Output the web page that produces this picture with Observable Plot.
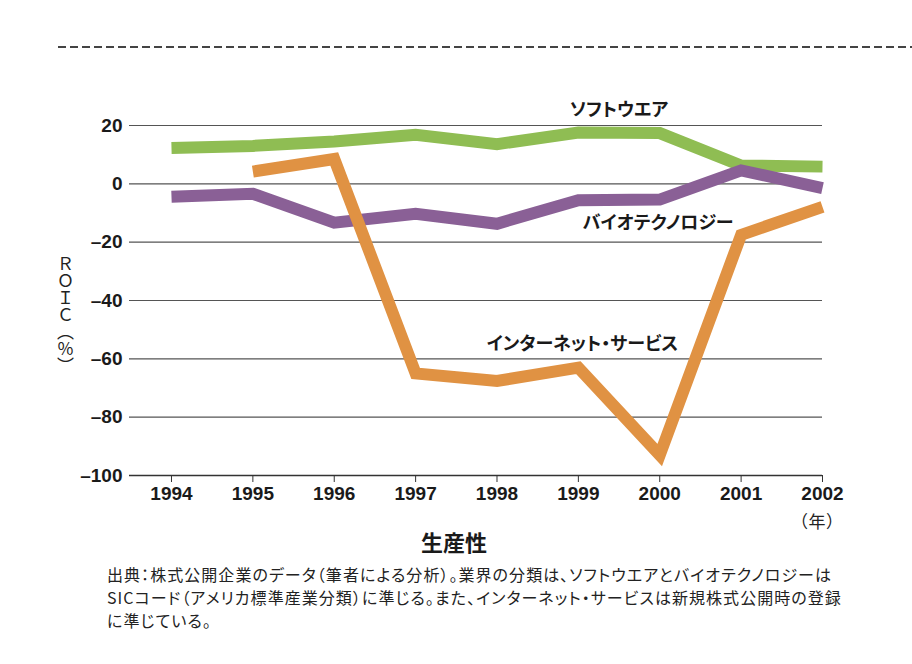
<!DOCTYPE html>
<html><head><meta charset="utf-8">
<script src="https://cdn.jsdelivr.net/npm/d3@7"></script>
<script src="https://cdn.jsdelivr.net/npm/@observablehq/plot@0.6"></script>
<style>
body{margin:0;background:#fff;}
#wrap{position:relative;width:912px;height:664px;overflow:hidden;font-family:"Noto Sans CJK JP","Noto Sans",sans-serif;color:#1a1a1a;}
#dash{position:absolute;left:58px;top:46px;width:854px;height:1.5px;background:repeating-linear-gradient(to right,#444 0 8px,transparent 8px 12px);}
#chart{position:absolute;left:0;top:0;}
#chart svg g[aria-label="text"] text{font-feature-settings:"palt";}
#ylab{position:absolute;left:55px;top:255px;writing-mode:vertical-rl;font-size:17px;line-height:20px;color:#222;}
#nen{position:absolute;left:799px;top:508px;font-size:17px;color:#222;font-feature-settings:"palt";letter-spacing:1px;}
#xlab{position:absolute;left:421px;top:525px;font-size:22px;font-weight:700;color:#1a1a1a;}
.cap{position:absolute;left:107px;font-size:16px;line-height:22px;height:22px;color:#222;font-feature-settings:"palt";letter-spacing:1.05px;white-space:nowrap;font-family:"Noto Sans CJK JP",sans-serif;}
</style></head>
<body><div id="wrap">
<div id="dash"></div>
<div id="chart"></div>
<div id="ylab">ＲＯＩＣ（％）</div>
<div id="nen">（年）</div>
<div id="xlab">生産性</div>
<div class="cap" style="top:563px">出典：株式公開企業のデータ（筆者による分析）。業界の分類は、ソフトウエアとバイオテクノロジーは</div>
<div class="cap" style="top:586px">SICコード（アメリカ標準産業分類）に準じる。また、インターネット・サービスは新規株式公開時の登録</div>
<div class="cap" style="top:609px">に準じている。</div>
</div>
<script>
const years = [1994, 1995, 1996, 1997, 1998, 1999, 2000, 2001, 2002];
const software = [12.3, 13.0, 14.5, 16.8, 13.6, 17.6, 17.4, 6.3, 5.9];
const biotech = [-4.4, -3.4, -13.3, -10.3, -13.7, -5.6, -5.4, 4.6, -1.5];
const internet = [null, 4.2, 8.5, -65.0, -67.6, -63.0, -93.0, -17.5, -7.9];
const seriesNames = ["ソフトウエア", "バイオテクノロジー", "インターネット・サービス"];
const seriesColors = ["#8fbd53", "#8a6096", "#e09243"];
const yTicks = [20, 0, -20, -40, -60, -80, -100];
const labelX = [1999.5, 1999.98, 1999.05];
const labelY = [25.3, -13.6, -55.0];

const rows = [];
[software, biotech, internet].forEach((vals, i) => {
  years.forEach((yr, j) => {
    if (vals[j] !== null) rows.push({series: seriesNames[i], year: yr, value: vals[j]});
  });
});
const labels = seriesNames.map((s, i) => ({series: s, x: labelX[i], y: labelY[i]}));
const numFont = '"Liberation Sans","Arial",sans-serif';

const chart = Plot.plot({
  width: 912,
  height: 560,
  marginTop: 125,
  marginBottom: 85,
  marginLeft: 129,
  marginRight: 90,
  x: {domain: [1993.484, 2002], ticks: years, tickFormat: d => String(d)},
  y: {domain: [-100, 20], ticks: yTicks},
  color: {domain: seriesNames, range: seriesColors},
  style: {fontFamily: numFont, background: "transparent", overflow: "visible"},
  marks: [
    Plot.ruleY(yTicks.filter(d => d > -100), {stroke: "#555", strokeWidth: 1.2}),
    Plot.ruleY([-100], {stroke: "#333", strokeWidth: 1.3}),
    Plot.axisX({ticks: years, tickSize: 7, tickPadding: 4, fontSize: 19, fontWeight: "bold", fill: "#1a1a1a", stroke: "#333", label: null, tickFormat: d => String(d)}),
    Plot.axisY({ticks: yTicks, tickSize: 0, tickPadding: 7, fontSize: 19, fontWeight: "bold", fill: "#1a1a1a", label: null, tickFormat: d => d < 0 ? "–" + Math.abs(d) : String(d)}),
    Plot.line(rows, {x: "year", y: "value", z: "series", stroke: "series", strokeWidth: 12, strokeLinecap: "butt", strokeLinejoin: "miter", strokeMiterlimit: 10}),
    Plot.text(labels, {x: "x", y: "y", text: "series", fontSize: 18, fontWeight: "bold", fill: "#1a1a1a", fontFamily: '"Noto Sans CJK JP",sans-serif', textAnchor: "middle"})
  ]
});
document.getElementById("chart").appendChild(chart);
</script>
</body></html>
